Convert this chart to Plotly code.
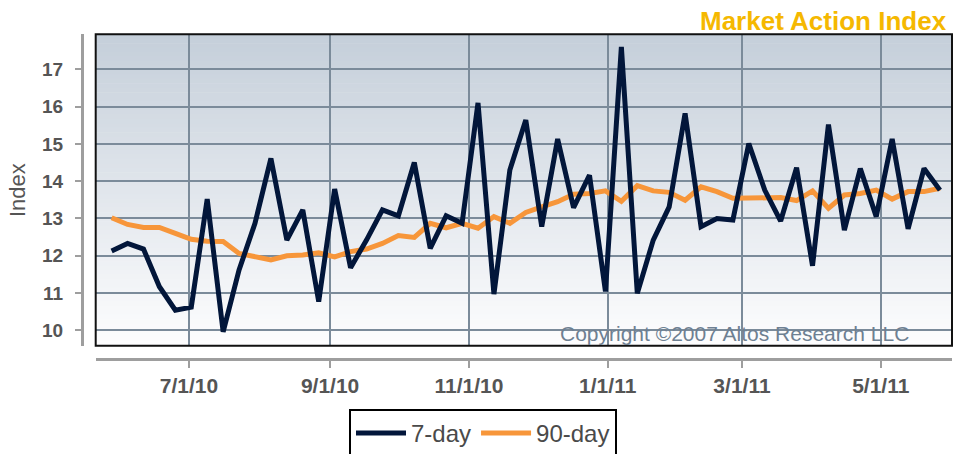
import plotly.graph_objects as go

# ---------------- data ----------------
dates = [
    "2010-05-28", "2010-06-04", "2010-06-11", "2010-06-18", "2010-06-25",
    "2010-07-02", "2010-07-09", "2010-07-16", "2010-07-23", "2010-07-30",
    "2010-08-06", "2010-08-13", "2010-08-20", "2010-08-27", "2010-09-03",
    "2010-09-10", "2010-09-17", "2010-09-24", "2010-10-01", "2010-10-08",
    "2010-10-15", "2010-10-22", "2010-10-29", "2010-11-05", "2010-11-12",
    "2010-11-19", "2010-11-26", "2010-12-03", "2010-12-10", "2010-12-17",
    "2010-12-24", "2010-12-31", "2011-01-07", "2011-01-14", "2011-01-21",
    "2011-01-28", "2011-02-04", "2011-02-11", "2011-02-18", "2011-02-25",
    "2011-03-04", "2011-03-11", "2011-03-18", "2011-03-25", "2011-04-01",
    "2011-04-08", "2011-04-15", "2011-04-22", "2011-04-29", "2011-05-06",
    "2011-05-13", "2011-05-20", "2011-05-27",
]

seven_day = [
    12.13, 12.33, 12.18, 11.17, 10.54, 10.62, 13.52, 9.96, 11.62, 12.87,
    14.61, 12.42, 13.23, 10.77, 13.79, 11.68, 12.42, 13.23, 13.07, 14.50,
    12.20, 13.07, 12.87, 16.10, 10.97, 14.30, 15.64, 12.78, 15.13, 13.29,
    14.16, 11.04, 17.60, 10.99, 12.42, 13.31, 15.82, 12.78, 13.00, 12.96,
    15.01, 13.76, 12.93, 14.36, 11.73, 15.52, 12.69, 14.34, 13.05, 15.13,
    12.72, 14.34, 13.76,
]

ninety_day = [
    13.02, 12.84, 12.76, 12.76, 12.60, 12.44, 12.39, 12.38, 12.06, 11.96,
    11.89, 12.00, 12.02, 12.08, 11.97, 12.11, 12.18, 12.33, 12.54, 12.49,
    12.87, 12.75, 12.87, 12.74, 13.05, 12.87, 13.16, 13.31, 13.45, 13.65,
    13.67, 13.74, 13.46, 13.88, 13.74, 13.70, 13.49, 13.85, 13.72, 13.54,
    13.54, 13.54, 13.56, 13.48, 13.74, 13.27, 13.63, 13.67, 13.76, 13.52,
    13.72, 13.72, 13.81,
]

tick_dates = ["2010-07-01", "2010-09-01", "2010-11-01", "2011-01-01", "2011-03-01", "2011-05-01"]
tick_labels = ["7/1/10", "9/1/10", "11/1/10", "1/1/11", "3/1/11", "5/1/11"]
y_ticks = [10, 11, 12, 13, 14, 15, 16, 17]

series_names = ["7-day", "90-day"]

# ---------------- geometry ----------------
W_PX, H_PX = 953, 454
L, R, T, B = 70, 0, 20, 80
PW = W_PX - L - R
PH = H_PX - T - B


def px_x(x):
    return (x - L) / PW


def px_y(y):
    return (H_PX - B - y) / PH


FONT = "Liberation Sans, Arial, Helvetica, sans-serif"
NAVY = "#02163a"
ORANGE = "#f7963a"
GRID = "#7b8b9a"
AXIS = "#9e9e9e"
TICKTXT = "#555555"

fig = go.Figure()

fig.add_trace(go.Scatter(
    x=dates, y=ninety_day, name=series_names[1], mode="lines",
    line=dict(color=ORANGE, width=5), hoverinfo="skip",
))
fig.add_trace(go.Scatter(
    x=dates, y=seven_day, name=series_names[0], mode="lines",
    line=dict(color=NAVY, width=5), hoverinfo="skip",
))

# gradient background bands (plot area)
shapes = []
n_bands = 70
top_c = (197, 207, 218)
bot_c = (253, 253, 254)
for i in range(n_bands):
    f = i / (n_bands - 1)
    c = tuple(round(top_c[k] + (bot_c[k] - top_c[k]) * f) for k in range(3))
    y1 = 1 - i / n_bands
    y0 = 1 - (i + 1) / n_bands
    shapes.append(dict(
        type="rect", xref="x domain", yref="y domain",
        x0=0, x1=1, y0=y0 - 0.002, y1=y1,
        fillcolor="rgb(%d,%d,%d)" % c, line=dict(width=0), layer="below",
    ))
# black plot frame
shapes.append(dict(
    type="rect", xref="x domain", yref="y domain", x0=0, x1=1, y0=0, y1=1,
    line=dict(color="#111111", width=2), fillcolor="rgba(0,0,0,0)", layer="above",
))

x_dom = [px_x(95.7), px_x(952)]
y_dom = [px_y(345.7), px_y(34.3)]

fig.update_layout(
    width=W_PX, height=H_PX,
    margin=dict(l=L, r=R, t=T, b=B, pad=0),
    paper_bgcolor="white", plot_bgcolor="white",
    font=dict(family=FONT, color=TICKTXT),
    shapes=shapes,
    showlegend=True,
    legend=dict(
        orientation="h", xref="container", yref="container",
        x=483 / W_PX, xanchor="center",
        y=1 - 409 / H_PX, yanchor="top",
        bordercolor="#000000", borderwidth=2, bgcolor="white",
        font=dict(family=FONT, size=24, color="#4a4a4a"),
        traceorder="reversed", itemwidth=50,
    ),
    xaxis=dict(
        domain=x_dom, anchor="free", position=px_y(359),
        type="date", range=["2010-05-21", "2011-06-01 07:00"],
        tickvals=tick_dates, ticktext=tick_labels,
        showgrid=True, gridcolor=GRID, gridwidth=1.5,
        showline=True, linecolor=AXIS, linewidth=2.5,
        ticks="outside", ticklen=7, tickwidth=2, tickcolor=AXIS,
        tickfont=dict(family=FONT, size=21, color=TICKTXT, weight="bold"),
        zeroline=False, automargin=False,
    ),
    yaxis=dict(
        domain=y_dom, anchor="free", position=px_x(81.7),
        range=[9.587, 17.94], tickvals=y_ticks,
        showgrid=True, gridcolor=GRID, gridwidth=1.5,
        showline=True, linecolor=AXIS, linewidth=2.5,
        ticks="outside", ticklen=6, tickwidth=2, tickcolor=AXIS,
        tickfont=dict(family=FONT, size=19, color=TICKTXT, weight="bold"),
        ticklabelstandoff=8,
        zeroline=False, automargin=False,
    ),
    annotations=[
        dict(text="Market Action Index", xref="paper", yref="paper",
             x=px_x(949), y=px_y(21), xanchor="right", yanchor="middle",
             showarrow=False,
             font=dict(family=FONT, size=26, color="#f5b800", weight="bold")),
        dict(text="Index", xref="paper", yref="paper",
             x=px_x(17), y=px_y(190), xanchor="center", yanchor="middle",
             textangle=-90, showarrow=False,
             font=dict(family=FONT, size=22, color="#555555")),
        dict(text="Copyright ©2007 Altos Research LLC", xref="paper", yref="paper",
             x=px_x(911), y=px_y(333), xanchor="right", yanchor="middle",
             showarrow=False,
             font=dict(family=FONT, size=21, color="#6e8092")),
    ],
)

fig.write_html(
    "out.html",
    config={"displayModeBar": False},
    post_script="document.body.style.margin='0';document.body.style.overflow='hidden';",
)
